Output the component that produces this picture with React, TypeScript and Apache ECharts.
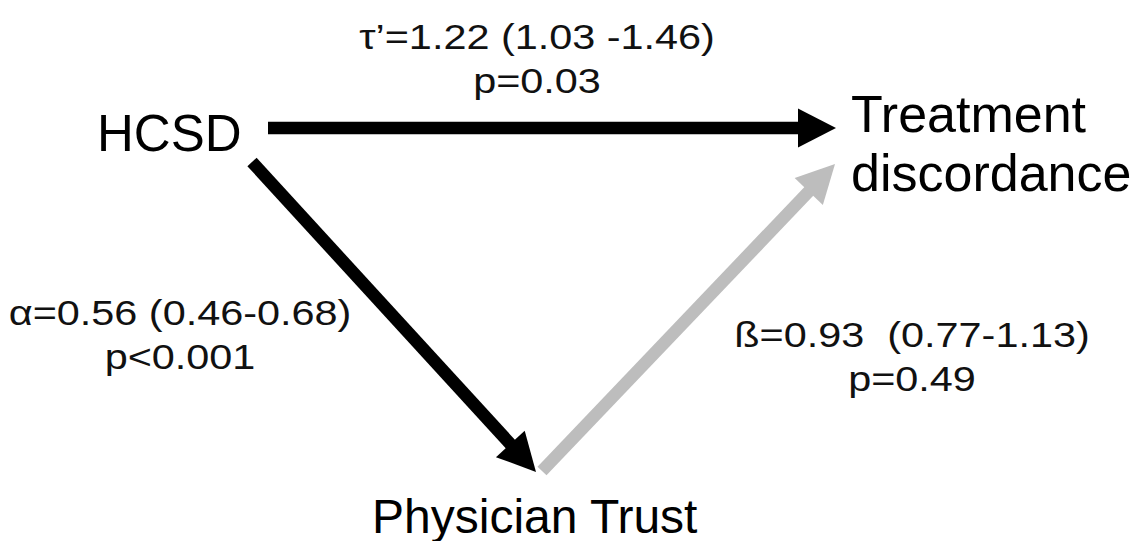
import React, { useEffect, useRef } from "react";
import * as echarts from "echarts";

// ---- Data ----
const nodeNames = ["HCSD", "Treatment\ndiscordance", "Physician Trust"];
const pathLabels = ["τ’=1.22 (1.03 -1.46)", "α=0.56 (0.46-0.68)", "ß=0.93  (0.77-1.13)"];
const pathPValues = ["p=0.03", "p<0.001", "p=0.49"];
const pathSignificant = [true, true, false];

// ---- Layout (diagram coordinates, same scale as the 1138x541 canvas) ----
const W = 1138;
const H = 541;
// arrows: [x1, y1, x2(tip), y2(tip)]
const arrowLayout = [
  [268, 128, 836, 128],
  [252, 162, 536, 472],
  [542, 471, 835, 164],
];
// node label anchors: [x, y (middle of first line), fontSize]
const nodeLayout = [
  [97, 133, 51],
  [851, 114, 52],
  [372, 516, 48],
];
// edge label anchors: centre [x, y] for first line, second line below
const labelLayout = [
  [537, 36],
  [180, 312],
  [912, 334],
];
const labelLineGap = 44;

const FONT = '"Liberation Sans", Arial, Helvetica, sans-serif';

export default function App() {
  const ref = useRef<HTMLDivElement>(null);
  useEffect(() => {
    if (!ref.current) return;
    const chart = echarts.init(ref.current, undefined, { renderer: "svg" });

    const arrowData = arrowLayout.map((a, i) => [a[0], a[1], a[2], a[3], i]);
    const nodeData = nodeLayout.map((n, i) => [n[0], n[1], i]);
    const labelData = labelLayout.map((l, i) => [l[0], l[1], i]);

    const option: any = {
      animation: false,
      grid: { left: 0, right: 0, top: 0, bottom: 0 },
      xAxis: { type: "value", min: 0, max: W, show: false },
      yAxis: { type: "value", min: 0, max: H, inverse: true, show: false },
      series: [
        {
          type: "custom",
          clip: false,
          data: arrowData,
          encode: { x: [0, 2], y: [1, 3] },
          renderItem: (params: any, api: any) => {
            const p1 = api.coord([api.value(0), api.value(1)]);
            const p2 = api.coord([api.value(2), api.value(3)]);
            const idx = api.value(4);
            const color = pathSignificant[idx] ? "#000000" : "#bdbdbd";
            const dx = p2[0] - p1[0];
            const dy = p2[1] - p1[1];
            const len = Math.sqrt(dx * dx + dy * dy);
            const ux = dx / len;
            const uy = dy / len;
            const nx = -uy;
            const ny = ux;
            const headLen = 38;
            const headHalf = 19.5;
            const bx = p2[0] - ux * headLen;
            const by = p2[1] - uy * headLen;
            return {
              type: "group",
              children: [
                {
                  type: "line",
                  shape: { x1: p1[0], y1: p1[1], x2: bx + ux * 2, y2: by + uy * 2 },
                  style: { stroke: color, lineWidth: 12.5, lineCap: "butt" },
                },
                {
                  type: "polygon",
                  shape: {
                    points: [
                      [p2[0], p2[1]],
                      [bx + nx * headHalf, by + ny * headHalf],
                      [bx - nx * headHalf, by - ny * headHalf],
                    ],
                  },
                  style: { fill: color },
                },
              ],
            };
          },
        },
        {
          type: "custom",
          clip: false,
          data: nodeData,
          encode: { x: 0, y: 1 },
          renderItem: (params: any, api: any) => {
            const idx = api.value(2);
            const p = api.coord([api.value(0), api.value(1)]);
            const fs = nodeLayout[idx][2];
            const lh = Math.round(fs * 1.13);
            return {
              type: "text",
              x: p[0],
              y: p[1] - lh / 2,
              style: {
                text: nodeNames[idx],
                fill: "#000000",
                fontSize: fs,
                fontFamily: FONT,
                lineHeight: lh,
                align: "left",
                verticalAlign: "top",
              },
            };
          },
        },
        {
          type: "custom",
          clip: false,
          data: labelData,
          encode: { x: 0, y: 1 },
          renderItem: (params: any, api: any) => {
            const idx = api.value(2);
            const p = api.coord([api.value(0), api.value(1)]);
            const mk = (text: string, yy: number) => ({
              type: "text",
              x: p[0],
              y: yy,
              scaleX: 1.15,
              style: {
                text,
                fill: "#111111",
                fontSize: 36,
                fontFamily: FONT,
                align: "center",
                verticalAlign: "middle",
              },
            });
            return {
              type: "group",
              children: [mk(pathLabels[idx], p[1]), mk(pathPValues[idx], p[1] + labelLineGap)],
            };
          },
        },
      ],
    };
    chart.setOption(option);
    return () => chart.dispose();
  }, []);
  return (
    <div
      ref={ref}
      style={{ position: "absolute", left: 0, top: 0, width: W, height: H, background: "#ffffff" }}
    />
  );
}
